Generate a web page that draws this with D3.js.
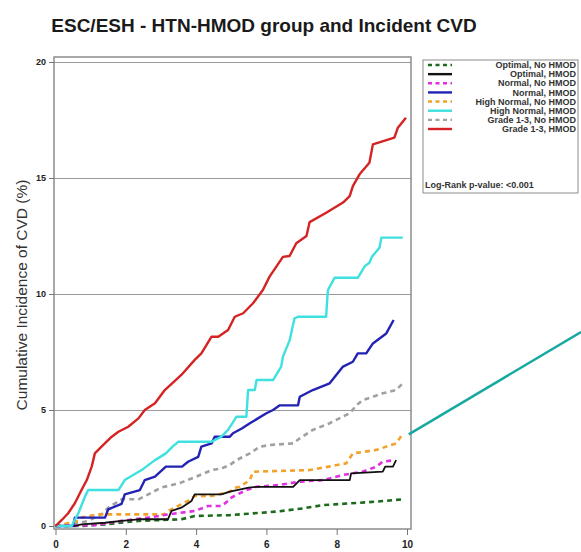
<!DOCTYPE html>
<html>
<head>
<meta charset="utf-8">
<script src="https://cdn.jsdelivr.net/npm/d3@7"></script>
<style>
  body { margin: 0; background: #fff; }
  svg { display: block; font-family: "Liberation Sans", Arial, sans-serif; }
  .tick text { fill: #222; font-weight: bold; }
  .legend-label { font-size: 9px; font-weight: bold; fill: #333; }
</style>
</head>
<body>
<svg width="581" height="552"></svg>
<script>
// follow-up time (years) and cumulative incidence (%)
const optimalNoHmod = [[0,0],[0.74,0],[1.41,0.07],[2.36,0.22],[3.58,0.29],[3.96,0.43],[4.96,0.47],[6.28,0.62],[7.04,0.76],[7.61,0.9],[9.13,1.05],[9.88,1.15]];
const optimalHmod = [[0,0],[0.55,0],[0.74,0.07],[1.41,0.14],[1.88,0.22],[2.36,0.29],[3.2,0.29],[3.3,0.65],[3.58,0.79],[3.87,1.08],[3.96,1.36],[4.72,1.36],[4.96,1.48],[5.5,1.65],[5.72,1.69],[6.76,1.69],[6.95,1.98],[8.37,1.98],[8.41,2.27],[9.31,2.34],[9.38,2.56],[9.6,2.56],[9.69,2.84]];
const normalNoHmod = [[0,0],[1.12,0.04],[1.88,0.22],[2.64,0.36],[3.2,0.5],[3.96,0.65],[4.34,0.86],[4.72,0.86],[4.91,1.08],[4.96,1.19],[5.15,1.34],[5.43,1.55],[5.72,1.69],[6.38,1.77],[6.95,1.91],[7.61,1.98],[8.18,2.2],[8.74,2.34],[9.13,2.56],[9.31,2.77],[9.65,2.84]];
const normalHmod = [[0,0],[0.5,0],[0.55,0.36],[1.41,0.36],[1.5,0.72],[1.88,0.95],[1.97,1.36],[2.4,1.55],[2.54,1.98],[2.83,2.13],[3.14,2.56],[3.6,2.56],[3.77,2.77],[4.06,2.98],[4.15,3.42],[4.44,3.56],[4.53,3.85],[4.96,3.85],[5.05,4.0],[5.3,4.2],[5.53,4.43],[6.0,4.86],[6.19,5.0],[6.38,5.2],[6.9,5.2],[6.95,5.57],[7.32,5.86],[7.8,6.15],[8.18,6.87],[8.46,7.08],[8.6,7.44],[8.84,7.44],[9.03,7.87],[9.41,8.3],[9.62,8.88]];
const highNormalNoHmod = [[0,0],[0.65,0.22],[0.74,0.36],[1.2,0.5],[3.1,0.5],[3.2,0.65],[3.77,1.08],[3.96,1.29],[4.44,1.29],[4.63,1.36],[4.96,1.48],[5.1,1.65],[5.24,1.69],[5.53,1.98],[5.62,2.34],[7.23,2.41],[8.27,2.7],[8.46,3.13],[9.13,3.28],[9.69,3.56],[9.84,3.88]];
const highNormalHmod = [[0,0],[0.46,0],[0.65,0.55],[0.84,1.27],[0.93,1.55],[1.79,1.55],[1.97,1.98],[2.45,2.41],[2.83,2.84],[3.14,3.13],[3.33,3.42],[3.49,3.63],[4.44,3.63],[4.72,3.85],[4.91,4.14],[5.15,4.71],[5.43,4.71],[5.48,5.86],[5.67,5.86],[5.72,6.29],[6.19,6.29],[6.42,6.87],[6.47,7.3],[6.66,8.0],[6.8,8.95],[6.9,9.02],[7.7,9.02],[7.72,9.53],[7.75,10.17],[7.94,10.7],[8.6,10.7],[8.8,11.2],[8.93,11.35],[9.0,11.6],[9.22,12.0],[9.27,12.43],[9.88,12.43]];
const grade13NoHmod = [[0,0],[0.3,0],[0.93,0.22],[1.31,0.5],[1.5,0.79],[1.88,1.15],[2.36,1.15],[2.64,1.36],[3.0,1.65],[3.57,1.87],[3.96,2.1],[4.44,2.41],[4.72,2.48],[4.96,2.63],[5.15,2.84],[5.53,3.13],[5.81,3.42],[6.09,3.49],[6.76,3.56],[6.95,3.78],[7.32,4.14],[7.8,4.43],[8.37,4.86],[8.56,5.2],[8.74,5.43],[9.03,5.57],[9.31,5.72],[9.69,5.86],[9.88,6.15]];
const grade13Hmod = [[0,0],[0.18,0.26],[0.36,0.55],[0.55,0.98],[0.74,1.55],[0.89,1.98],[1.03,2.56],[1.12,3.13],[1.31,3.42],[1.6,3.85],[1.79,4.06],[2.07,4.28],[2.36,4.64],[2.54,5.0],[2.83,5.29],[3.11,5.86],[3.58,6.51],[3.96,7.16],[4.15,7.44],[4.44,8.16],[4.63,8.16],[4.91,8.45],[5.1,9.02],[5.34,9.17],[5.62,9.6],[5.9,10.17],[6.09,10.75],[6.47,11.6],[6.66,11.64],[6.85,12.19],[7.14,12.5],[7.23,13.1],[7.7,13.5],[8.18,13.94],[8.37,14.22],[8.46,14.65],[8.65,15.16],[8.93,15.66],[9.03,16.45],[9.64,16.74],[9.74,17.17],[9.97,17.6]];

const seriesNames = ['Optimal, No HMOD', 'Optimal, HMOD', 'Normal, No HMOD', 'Normal, HMOD',
  'High Normal, No HMOD', 'High Normal, HMOD', 'Grade 1-3, No HMOD', 'Grade 1-3, HMOD'];
const seriesValues = [optimalNoHmod, optimalHmod, normalNoHmod, normalHmod,
  highNormalNoHmod, highNormalHmod, grade13NoHmod, grade13Hmod];
const seriesColors = ['#1c6b1c', '#111111', '#e030e0', '#2222b4', '#f2a229', '#3fe0e0', '#a0a0a0', '#d42323'];
const seriesDashed = [true, false, true, false, true, false, true, false];

const xTicks = [0, 2, 4, 6, 8, 10];
const yTicks = [0, 5, 10, 15, 20];
const title = 'ESC/ESH - HTN-HMOD group and Incident CVD';
const yAxisLabel = 'Cumulative Incidence of CVD (%)';
const pValueText = 'Log-Rank p-value: <0.001';

const svg = d3.select('svg');

// plot frame
const frame = {left: 54, right: 411, top: 57, bottom: 529};

const xScale = d3.scaleLinear().domain([0, 10]).range([55.5, 407]);
const yScale = d3.scaleLinear().domain([0, 20]).range([526, 62]);

svg.append('text')
    .attr('x', 264)
    .attr('y', 32)
    .attr('text-anchor', 'middle')
    .attr('font-size', 19)
    .attr('font-weight', 'bold')
    .attr('fill', '#1a1a1a')
    .text(title);

// gridlines
const gridG = svg.append('g')
    .attr('transform', `translate(${frame.left}, 0)`)
    .call(d3.axisLeft(yScale).tickValues(yTicks.slice(1)).tickSize(-(frame.right - frame.left)).tickFormat(''));
gridG.select('.domain').remove();
gridG.selectAll('line').attr('stroke', '#9a9a9a').attr('stroke-width', 1);

svg.append('rect')
    .attr('x', frame.left)
    .attr('y', frame.top)
    .attr('width', frame.right - frame.left)
    .attr('height', frame.bottom - frame.top)
    .attr('fill', 'none')
    .attr('stroke', '#8c8c8c')
    .attr('stroke-width', 1.5);

const yAxisG = svg.append('g')
    .attr('transform', `translate(${frame.left}, 0)`)
    .call(d3.axisLeft(yScale).tickValues(yTicks).tickSize(5).tickPadding(3));
yAxisG.select('.domain').remove();
yAxisG.selectAll('line').attr('stroke', '#777');
yAxisG.selectAll('text').attr('font-size', 9);

const xAxisG = svg.append('g')
    .attr('transform', `translate(0, ${frame.bottom})`)
    .call(d3.axisBottom(xScale).tickValues(xTicks).tickSize(6).tickPadding(6));
xAxisG.select('.domain').remove();
xAxisG.selectAll('line').attr('stroke', '#777');
xAxisG.selectAll('text').attr('font-size', 10);

svg.append('text')
    .attr('transform', 'rotate(-90)')
    .attr('x', -295)
    .attr('y', 27)
    .attr('text-anchor', 'middle')
    .attr('font-size', 15.5)
    .attr('fill', '#333')
    .text(yAxisLabel);

const lineGen = d3.line()
    .x(d => xScale(d[0]))
    .y(d => yScale(d[1]));

const drawOrder = [6, 0, 4, 2, 1, 3, 5, 7];
drawOrder.forEach(i => {
    svg.append('path')
        .attr('d', lineGen(seriesValues[i]))
        .attr('fill', 'none')
        .attr('stroke', seriesColors[i])
        .attr('stroke-width', seriesDashed[i] ? 2.6 : (i === 1 ? 1.8 : 2.4))
        .attr('stroke-dasharray', seriesDashed[i] ? '5,4' : null)
        .attr('stroke-linejoin', 'round');
});

// legend
const legendG = svg.append('g');
legendG.append('rect')
    .attr('x', 423).attr('y', 60)
    .attr('width', 155).attr('height', 133)
    .attr('fill', '#fff')
    .attr('stroke', '#8c8c8c')
    .attr('stroke-width', 1);

const legendY = d3.scaleLinear().domain([0, 7]).range([65, 129]);
seriesNames.forEach((name, i) => {
    legendG.append('line')
        .attr('x1', 428).attr('x2', 452)
        .attr('y1', legendY(i)).attr('y2', legendY(i))
        .attr('stroke', seriesColors[i])
        .attr('stroke-width', 2.4)
        .attr('stroke-dasharray', seriesDashed[i] ? '4,3.5' : null);
    legendG.append('text')
        .attr('class', 'legend-label')
        .attr('x', 576)
        .attr('y', legendY(i))
        .attr('dy', '0.35em')
        .attr('text-anchor', 'end')
        .text(name);
});
legendG.append('text')
    .attr('class', 'legend-label')
    .attr('x', 425)
    .attr('y', 185)
    .attr('dy', '0.35em')
    .text(pValueText);

// teal pointer line toward the High Normal, No HMOD curve end
svg.append('line')
    .attr('x1', xScale(10.05)).attr('y1', yScale(3.95))
    .attr('x2', 581).attr('y2', 332)
    .attr('stroke', '#17a9a1')
    .attr('stroke-width', 2.5);
</script>
</body>
</html>
